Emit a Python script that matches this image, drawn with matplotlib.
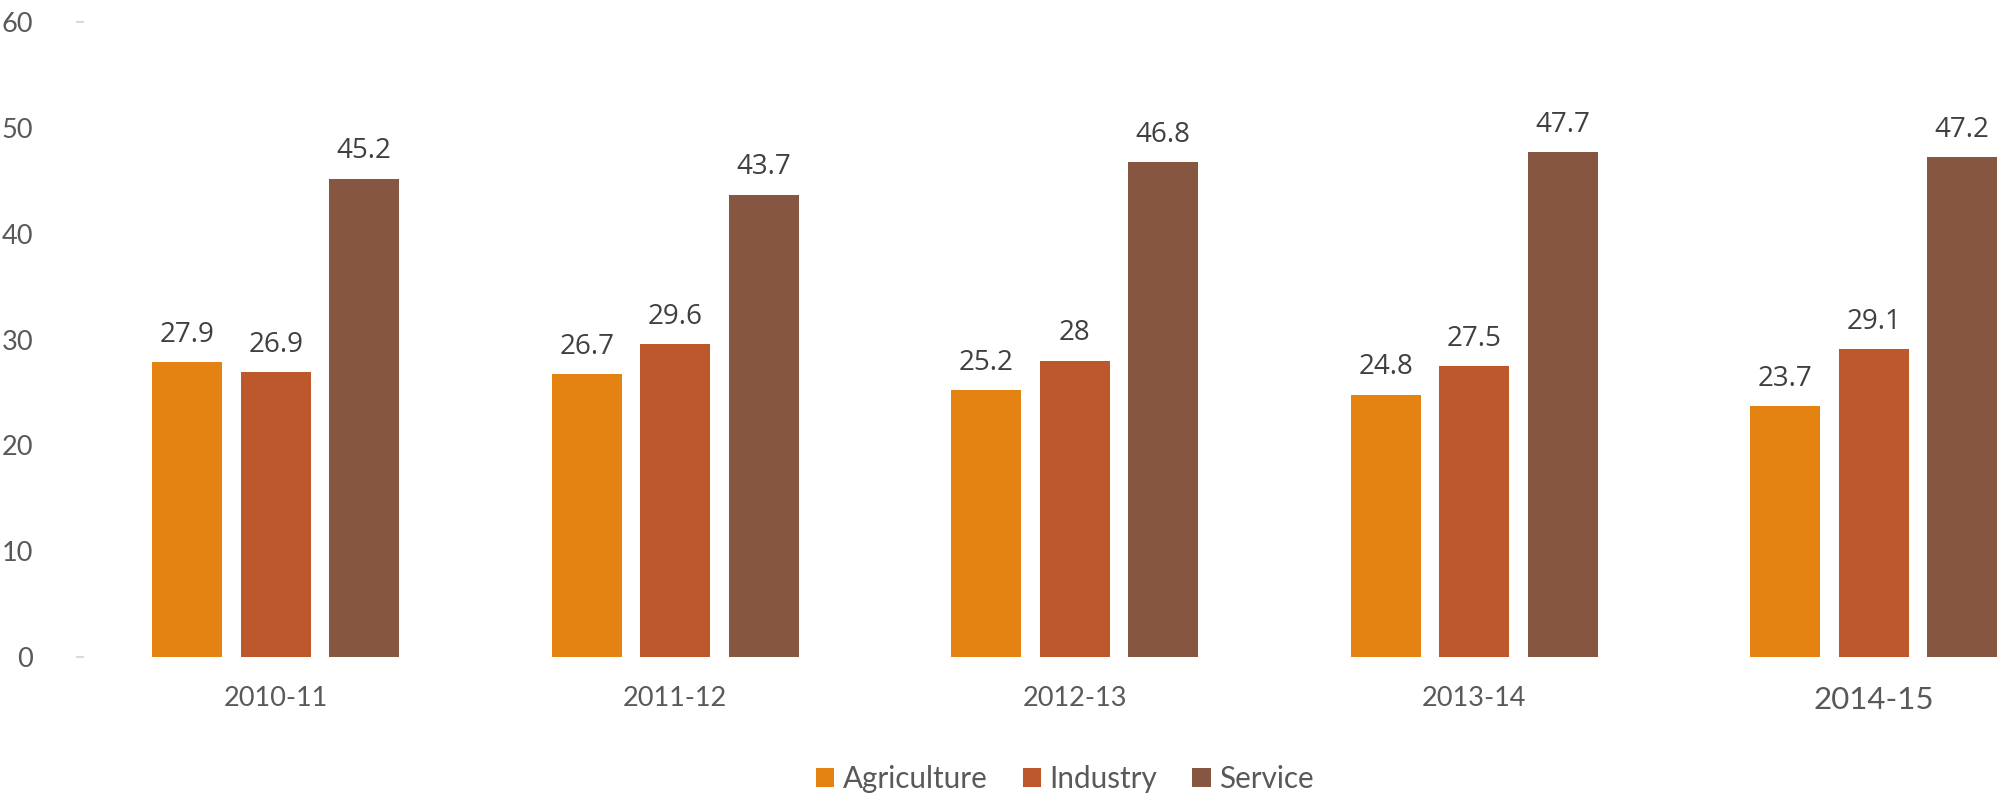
import numpy as np
import matplotlib.pyplot as plt

# ----------------------------------------------------- DADOS
years = ['2010-11', '2011-12', '2012-13', '2013-14', '2014-15']
agriculture = [27.9, 26.7, 25.2, 24.8, 23.7]
industry = [26.9, 29.6, 28, 27.5, 29.1]
service = [45.2, 43.7, 46.8, 47.7, 47.2]

series = [('Agriculture', agriculture, '#E58312'),
          ('Industry', industry, '#BD582C'),
          ('Service', service, '#865640')]

fig = plt.figure(figsize=(20.05, 7.97), dpi=100)
W, H = 2005, 797
ax = fig.add_axes([76 / W, (H - 657) / H, (W - 76) / W, (657 - 22) / H])

x = np.arange(len(years))
step = 0.2215
width = 0.175

for k, (nome, vals, cor) in enumerate(series):
    pos = x + (k - 1) * step
    ax.bar(pos, vals, width, color=cor, label=nome)
    for xi, v in zip(pos, vals):
        ax.annotate('%g' % v, (xi, v), xytext=(0, 9.5), textcoords='offset points',
                    ha='center', va='bottom', fontsize=20, color='#404040',
                    family='Open Sans')

ax.set_ylim(0, 60)
ax.set_xlim(-0.5, -0.5 + (W - 76) / 399.5)

for s in ax.spines.values():
    s.set_visible(False)

ax.set_yticks([0, 10, 20, 30, 40, 50, 60])
ax.tick_params(axis='y', length=0, pad=31, labelsize=19.5, labelcolor='#595959')
for lb in ax.get_yticklabels():
    lb.set_family('Lato')
# pequenos tracinhos cinza em 0 e 60
ax.plot([-0.5 + 1 / 399.5, -0.5 + 7 / 399.5], [0, 0], color='#D9D9D9', lw=1.5, clip_on=False)
ax.plot([-0.5 + 1 / 399.5, -0.5 + 7 / 399.5], [60, 60], color='#D9D9D9', lw=1.5, clip_on=False)

ax.set_xticks(x)
ax.set_xticklabels(years)
ax.tick_params(axis='x', length=0, pad=21, labelsize=19.5, labelcolor='#595959')
for lb in ax.get_xticklabels():
    lb.set_family('Lato')
ax.get_xticklabels()[-1].set_fontsize(22.5)

leg = fig.legend(loc='center', bbox_to_anchor=(1065 / W, (H - 779) / H), ncol=3,
                 frameon=False, handlelength=0.62, handleheight=0.62,
                 handletextpad=0.29, columnspacing=1.18, prop={'family': 'Lato', 'size': 21.3})
for t in leg.get_texts():
    t.set_color('#595959')

fig.savefig('out.png', dpi=100)
